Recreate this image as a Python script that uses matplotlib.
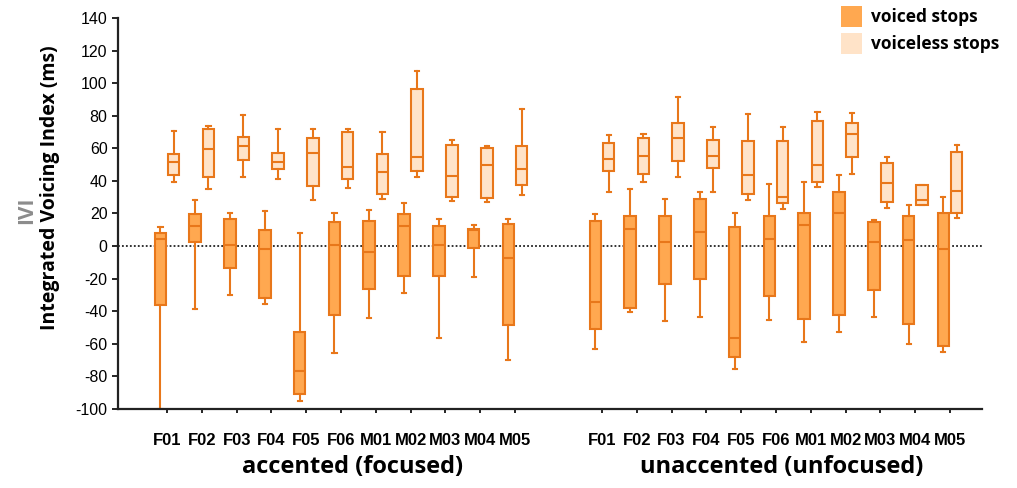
import matplotlib
matplotlib.use("Agg")
import matplotlib.pyplot as plt
from matplotlib.patches import Patch

speakers = ["F01", "F02", "F03", "F04", "F05", "F06", "M01", "M02", "M03", "M04", "M05"]
groups = ["accented (focused)", "unaccented (unfocused)"]

# (whisker low, Q1, median, Q3, whisker high) per speaker
acc_voiced = [(-100, -36.1, 4.2, 8.1, 11.6), (-38.8, 2.2, 12.6, 19.8, 28.4),
              (-30, -13.6, 0.7, 16.5, 20.4), (-35.5, -32, -1.9, 9.8, 21.6),
              (-95.1, -90.6, -76.5, -52.5, 8.1), (-65.4, -42.3, 0.7, 14.9, 20),
              (-44.3, -26.5, -3.8, 15.5, 22.2), (-28.7, -18.1, 12.2, 19.8, 26.5),
              (-56.2, -18.1, 0.7, 12.6, 16.7), (-18.7, -1.3, 9.8, 10.7, 13.2),
              (-69.9, -48.4, -7.1, 13.6, 16.9)]
acc_voiceless = [(39.4, 43.9, 51.5, 56.4, 70.8), (35.1, 42.3, 59.9, 71.8, 73.8),
                 (42.5, 53.1, 61.4, 67.1, 80.6), (41.3, 47.4, 51.9, 57.4, 71.8),
                 (28.2, 36.8, 57.4, 66.6, 71.8), (35.7, 41.3, 48.6, 70, 71.8),
                 (28.8, 32.1, 45.4, 56.4, 70.1), (42.7, 46.4, 54.6, 96.4, 107.2),
                 (27.9, 30.4, 42.9, 62, 65.2), (27.1, 29.8, 49.7, 60.3, 61.5),
                 (31.4, 37.6, 47.4, 61.5, 84.1)]
unacc_voiced = [(-63, -51.1, -34.3, 15.3, 19.8), (-40.4, -38.2, 10.6, 18.7, 35.3),
                (-45.9, -23.4, 2.2, 18.7, 29), (-43.7, -20.1, 8.9, 29, 33.3),
                (-75.4, -68, -56.2, 11.6, 20.6), (-45.3, -30.4, 4.6, 18.7, 38),
                (-58.7, -44.5, 13, 20.2, 39.6), (-52.9, -42.4, 20, 33.3, 43.9),
                (-43.7, -27.1, 2.2, 14.7, 16.3), (-60.3, -47.8, 3.6, 18.6, 25.3),
                (-65.2, -61.3, -1.5, 20.2, 30)]
unacc_voiceless = [(33.3, 46.4, 53.7, 63.2, 68.5), (39.6, 44.5, 55.4, 66.5, 68.9),
                   (42.3, 52.5, 66.5, 75.7, 91.5), (33.3, 47.8, 55.4, 65.2, 73.4),
                   (28.4, 32.2, 43.7, 64.8, 80.8), (23, 26.7, 30.4, 64.8, 73.4),
                   (36.5, 39.4, 49.7, 76.7, 82.4), (44.3, 54.6, 68.9, 75.7, 81.8),
                   (23.6, 27, 38.8, 50.9, 54.8), (25.3, 25.3, 28.4, 37.2, 37.2),
                   (17.1, 20.4, 33.9, 57.7, 62)]

y_ticks = list(range(-100, 141, 20))

edge = "#E8771A"
fill_voiced = "#FFA850"
fill_voiceless = "#FFE3C8"

fig = plt.figure(figsize=(10.17, 4.88), dpi=100)
ax = fig.add_axes([0.116, 0.162, 0.8496, 0.801])

def stats(rows):
    return [dict(whislo=r[0], q1=r[1], med=r[2], q3=r[3], whishi=r[4], fliers=[]) for r in rows]

n = len(speakers)
gap = 12.5
pos = [i for i in range(n)] + [gap + i for i in range(n)]
off = 0.19
w = 0.33

common = dict(widths=w, showfliers=False, patch_artist=True, capwidths=0.12,
              whiskerprops=dict(color=edge, lw=1.5),
              capprops=dict(color=edge, lw=1.5),
              medianprops=dict(color=edge, lw=1.5), manage_ticks=False)

ax.bxp(stats(acc_voiced + unacc_voiced), positions=[p - off for p in pos],
       boxprops=dict(facecolor=fill_voiced, edgecolor=edge, lw=1.5), **common)
ax.bxp(stats(acc_voiceless + unacc_voiceless), positions=[p + off for p in pos],
       boxprops=dict(facecolor=fill_voiceless, edgecolor=edge, lw=1.5), **common)

ax.axhline(0, color="#222222", lw=1.3, ls=(0, (1, 1.2)), zorder=0)

ax.set_xlim(-1.41, 23.42)
ax.set_ylim(-100, 140)
ax.set_yticks(y_ticks)
ax.set_yticklabels([str(v) for v in y_ticks], fontfamily="Liberation Sans", fontsize=11.5)
ax.set_xticks(pos)
ax.set_xticklabels(speakers + speakers, fontfamily="Liberation Sans", fontweight="bold", fontsize=12)
ax.tick_params(axis="x", length=3, width=1.2, pad=14)
ax.tick_params(axis="y", length=4, width=1.2)
for s in ["top", "right"]:
    ax.spines[s].set_visible(False)
for s in ["left", "bottom"]:
    ax.spines[s].set_linewidth(1.6)
    ax.spines[s].set_color("#222222")

fig.text(50 / 1017, 0.616, "Integrated Voicing Index (ms)", rotation=90, ha="center", va="center",
         fontfamily="Open Sans", fontweight="bold", fontsize=14)
fig.text(27 / 1017, 0.57, "IVI", rotation=90, ha="center", va="center",
         fontfamily="Open Sans", fontweight="bold", fontsize=15, color="#8c8c8c")

fig.text(353 / 1017, 1 - 467 / 488, groups[0], ha="center", va="center",
         fontfamily="Open Sans", fontweight="bold", fontsize=17)
fig.text(782 / 1017, 1 - 467 / 488, groups[1], ha="center", va="center",
         fontfamily="Open Sans", fontweight="bold", fontsize=17)

handles = [Patch(facecolor=fill_voiced, edgecolor="none", label="voiced stops"),
           Patch(facecolor=fill_voiceless, edgecolor="none", label="voiceless stops")]
fig.legend(handles=handles, loc="upper right", bbox_to_anchor=(0.998, 1.02), frameon=False,
           prop=dict(family="Open Sans", weight="bold", size=12.5),
           handlelength=1.25, handleheight=1.5, handletextpad=0.5, labelspacing=0.35)

fig.savefig("out.png", dpi=100)
